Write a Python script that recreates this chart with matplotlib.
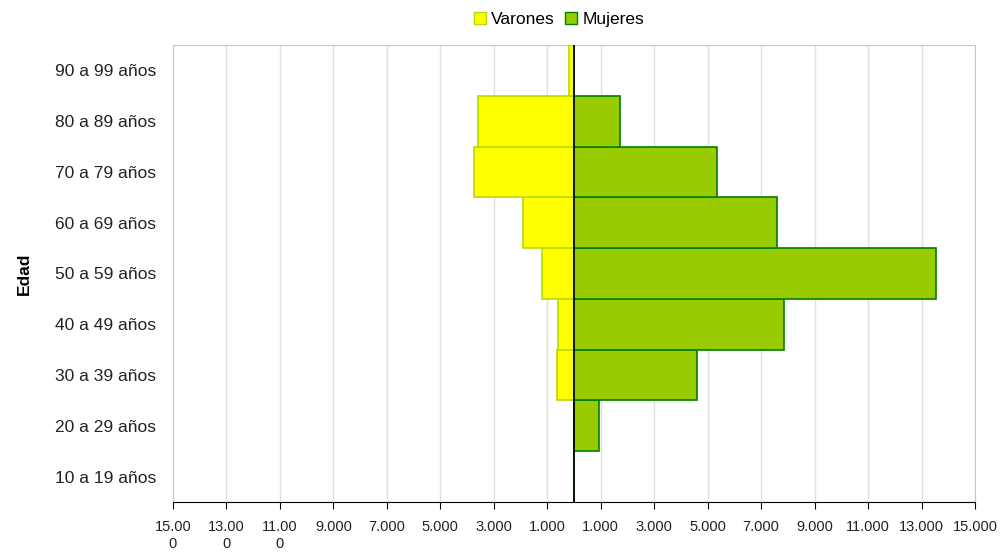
import matplotlib
matplotlib.use("Agg")
import matplotlib.pyplot as plt
from matplotlib.patches import Patch

plt.rcParams["font.family"] = ["Liberation Sans", "DejaVu Sans"]

# age groups, bottom to top
grupos = ["10 a 19 años", "20 a 29 años", "30 a 39 años", "40 a 49 años",
          "50 a 59 años", "60 a 69 años", "70 a 79 años", "80 a 89 años",
          "90 a 99 años"]
varones = [0, 0, 640, 590, 1210, 1900, 3730, 3580, 200]
mujeres = [0, 950, 4610, 7860, 13530, 7600, 5350, 1730, 0]

tick_vals = [-15000, -13000, -11000, -9000, -7000, -5000, -3000, -1000,
             1000, 3000, 5000, 7000, 9000, 11000, 13000, 15000]
tick_labels = ["15.00\n0", "13.00\n0", "11.00\n0", "9.000", "7.000", "5.000",
               "3.000", "1.000", "1.000", "3.000", "5.000", "7.000", "9.000",
               "11.000", "13.000", "15.000"]

fig = plt.figure(figsize=(10, 5.52), dpi=100)
ax = fig.add_axes([0.173, 0.0906, 0.802, 0.828])

y = list(range(len(grupos)))
ax.barh(y, [-v for v in varones], height=1.0, color="#FFFF00",
        edgecolor="#B8DC00", linewidth=1.2, zorder=3)
ax.barh(y, mujeres, height=1.0, color="#99CC00",
        edgecolor="#008000", linewidth=1.2, zorder=3)

ax.axvline(0, color="black", linewidth=1.2, zorder=4)

ax.set_xlim(-15000, 15000)
ax.set_ylim(-0.5, len(grupos) - 0.5)
ax.set_xticks(tick_vals)
ax.set_xticklabels(tick_labels, fontsize=10.5, color="#222222", linespacing=1.3)
ax.set_yticks(y)
ax.set_yticklabels(grupos, fontsize=12.5, color="#222222")
ax.tick_params(axis="y", length=0, pad=12)
ax.tick_params(axis="x", length=5, color="black", pad=8)
ax.grid(axis="x", color="#E0E0E0", linewidth=1, zorder=0)

for s in ["left", "top", "right"]:
    ax.spines[s].set_color("#C8C8C8")
ax.spines["bottom"].set_color("black")

ax.set_ylabel("Edad", fontsize=12.5, fontweight="bold", labelpad=17)

handles = [Patch(facecolor="#FFFF00", edgecolor="#B8DC00", label="Varones"),
           Patch(facecolor="#99CC00", edgecolor="#008000", label="Mujeres")]
fig.legend(handles=handles, loc="center", bbox_to_anchor=(0.559, 0.964), ncol=2,
           frameon=False, fontsize=12.5, handlelength=0.7, handleheight=0.7,
           handletextpad=0.3, columnspacing=0.6)

fig.savefig("out.png", dpi=100)
